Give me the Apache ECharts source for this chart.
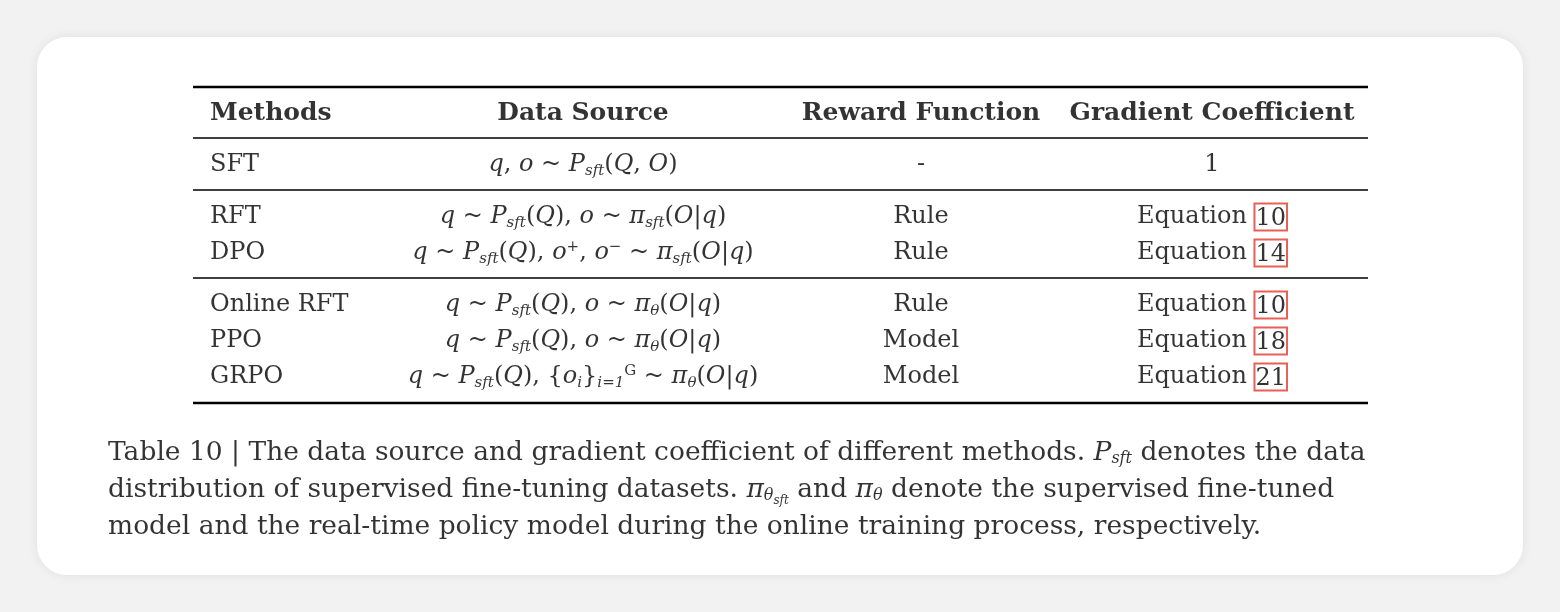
<!DOCTYPE html>
<html><head><meta charset="utf-8">
<script src="https://cdn.jsdelivr.net/npm/echarts@6/dist/echarts.min.js"></script>
<style>html,body{margin:0;padding:0;background:#f2f2f2}#main{width:1560px;height:612px}</style>
</head><body><div id="main"></div>
<script>
// table contents
var headers = ['Methods', 'Data Source', 'Reward Function', 'Gradient Coefficient'];
var methods = ['SFT', 'RFT', 'DPO', 'Online RFT', 'PPO', 'GRPO'];
var groups = [1, 2, 2, 3, 3, 3];
var dataSources = [
  '{i|q}, {i|o} ~ {i|P}{s|sft}({i|Q}, {i|O})',
  '{i|q} ~ {i|P}{s|sft}({i|Q}), {i|o} ~ {i|π}{s|sft}({i|O}|{i|q})',
  '{i|q} ~ {i|P}{s|sft}({i|Q}), {i|o}{p|+}, {i|o}{p|−} ~ {i|π}{s|sft}({i|O}|{i|q})',
  '{i|q} ~ {i|P}{s|sft}({i|Q}), {i|o} ~ {i|π}{s|θ}({i|O}|{i|q})',
  '{i|q} ~ {i|P}{s|sft}({i|Q}), {i|o} ~ {i|π}{s|θ}({i|O}|{i|q})',
  '{i|q} ~ {i|P}{s|sft}({i|Q}), {{i|o}{s|i}}{s|i=1}{p|G} ~ {i|π}{s|θ}({i|O}|{i|q})'
];
var rewards = ['-', 'Rule', 'Rule', 'Rule', 'Model', 'Model'];
var coefficients = ['1', 'Equation {b|10}', 'Equation {b|14}', 'Equation {b|10}', 'Equation {b|18}', 'Equation {b|21}'];
var caption = [
  'Table 10 | The data source and gradient coefficient of different methods. {i|P}{s|sft} denotes the data',
  'distribution of supervised fine-tuning datasets. {i|π}{s|θ}{ss|sft} and {i|π}{s|θ} denote the supervised fine-tuned',
  'model and the real-time policy model during the online training process, respectively.'
];

// layout
var FONT = 'DejaVu Serif';
var INK = '#000';
var colX = [210, 583, 921, 1212];
var colAlign = ['left', 'center', 'center', 'center'];
var rowY = [113];
for (var r = 0; r < methods.length; r++) {
  var prev = r === 0 ? 0 : groups[r - 1];
  rowY.push(rowY[r] + (groups[r] !== prev ? 52 : 36));
}
var rich = {
  i: {fontStyle: 'italic', fontFamily: FONT, fontSize: 24, color: INK},
  s: {fontStyle: 'italic', fontFamily: FONT, fontSize: 15, color: INK, padding: [12, 0, 0, 0]},
  ss: {fontStyle: 'italic', fontFamily: FONT, fontSize: 11, color: INK, padding: [20, 0, 0, 0]},
  p: {fontFamily: FONT, fontSize: 15, color: INK, padding: [0, 0, 12, 0]},
  b: {fontFamily: FONT, fontSize: 24, color: INK, borderColor: '#e0382c', borderWidth: 2, padding: [3, 1, 0, 1]}
};

function colSeries(c, values) {
  var data = [[colX[c], rowY[0], headers[c], true]];
  values.forEach(function (v, k) { data.push([colX[c], rowY[k + 1], v, false]); });
  return {
    type: 'scatter', symbolSize: 1, itemStyle: {color: 'transparent'}, silent: true,
    data: data.map(function (d) {
      return {value: [d[0], d[1]], name: d[2], label: {fontWeight: d[3] ? 'bold' : 'normal', fontSize: d[3] ? 25 : 24}};
    }),
    label: {show: true, position: 'inside', align: colAlign[c], verticalAlign: 'middle',
      fontFamily: FONT, color: INK, textBorderWidth: 0, rich: rich,
      formatter: function (p) { return p.name; }}
  };
}

var series = [colSeries(0, methods), colSeries(1, dataSources), colSeries(2, rewards), colSeries(3, coefficients)];
series.push({
  type: 'scatter', symbolSize: 1, itemStyle: {color: 'transparent'}, silent: true,
  data: caption.map(function (t, k) { return {value: [108, 453 + k * 37], name: t}; }),
  label: {show: true, position: 'inside', align: 'left', verticalAlign: 'middle',
    fontFamily: FONT, fontSize: 26.5, color: INK, textBorderWidth: 0,
    rich: {i: {fontStyle: 'italic', fontFamily: FONT, fontSize: 26.5, color: INK},
      s: {fontStyle: 'italic', fontFamily: FONT, fontSize: 16, color: INK, padding: [12, 0, 0, 0]},
      ss: {fontStyle: 'italic', fontFamily: FONT, fontSize: 12, color: INK, padding: [22, 0, 0, 0]}},
    formatter: function (p) { return p.name; }}
});

function rule(y, w) {
  return {type: 'line', shape: {x1: 193, y1: y, x2: 1368, y2: y}, style: {stroke: '#000', lineWidth: w}};
}

var myChart = echarts.init(document.getElementById('main'), null, {renderer: 'canvas'});
var option = {
  backgroundColor: '#f2f2f2',
  animation: false,
  grid: {left: 0, right: 0, top: 0, bottom: 0},
  xAxis: {type: 'value', min: 0, max: 1560, show: false},
  yAxis: {type: 'value', min: 0, max: 612, inverse: true, show: false},
  graphic: [
    {type: 'rect', z: -10, shape: {x: 37, y: 37, width: 1486, height: 538, r: 30},
      style: {fill: '#fff', shadowBlur: 12, shadowColor: 'rgba(0,0,0,0.08)'}},
    rule(87, 2.5), rule(138, 1.5), rule(190, 1.5), rule(278, 1.5), rule(403, 2.5)
  ],
  series: series
};
myChart.setOption(option);
window.addEventListener('resize', myChart.resize);
</script></body></html>
